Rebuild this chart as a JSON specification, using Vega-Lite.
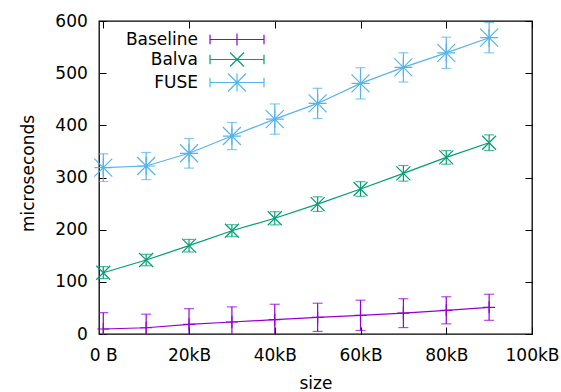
{
  "$schema": "https://vega.github.io/schema/vega-lite/v6.json",
  "width": 433,
  "height": 313,
  "autosize": {"type": "none"},
  "padding": {"left": 99, "top": 21, "right": 29, "bottom": 58},
  "background": "white",
  "config": {
    "view": {"stroke": "black", "strokeWidth": 1.3},
    "axis": {
      "labelFont": "DejaVu Sans", "titleFont": "DejaVu Sans",
      "labelFontSize": 17, "titleFontSize": 17,
      "labelColor": "black", "titleColor": "black", "titleFontWeight": "normal",
      "grid": false, "domain": false, "tickColor": "black", "tickSize": -7, "tickWidth": 1,
      "labelFlush": false, "labelOverlap": false
    },
    "legend": {
      "orient": "none", "legendX": 19, "legendY": 10, "title": null,
      "labelFont": "DejaVu Sans", "labelFontSize": 17, "labelColor": "black",
      "symbolSize": 144, "rowPadding": 2, "padding": 0,
      "labelAlign": "right"
    }
  },
  "data": {
    "values": [
      {"series": "Baseline", "size": 0, "y": 9.6, "lo": -21.4, "hi": 40.8},
      {"series": "Baseline", "size": 10000, "y": 12, "lo": -14, "hi": 38},
      {"series": "Baseline", "size": 20000, "y": 18.6, "lo": -11.4, "hi": 48.6},
      {"series": "Baseline", "size": 30000, "y": 23, "lo": -6, "hi": 52},
      {"series": "Baseline", "size": 40000, "y": 27.4, "lo": -2.2, "hi": 57},
      {"series": "Baseline", "size": 50000, "y": 32, "lo": 5, "hi": 59},
      {"series": "Baseline", "size": 60000, "y": 35.8, "lo": 6.8, "hi": 64.8},
      {"series": "Baseline", "size": 70000, "y": 40, "lo": 12.3, "hi": 67.7},
      {"series": "Baseline", "size": 80000, "y": 45.4, "lo": 19.4, "hi": 71.4},
      {"series": "Baseline", "size": 90000, "y": 51.2, "lo": 26.2, "hi": 76.2},
      {"series": "Balva", "size": 0, "y": 117.5, "lo": 106, "hi": 129},
      {"series": "Balva", "size": 10000, "y": 141.8, "lo": 130.8, "hi": 152.8},
      {"series": "Balva", "size": 20000, "y": 169.3, "lo": 157.3, "hi": 181.3},
      {"series": "Balva", "size": 30000, "y": 198, "lo": 186.5, "hi": 209.5},
      {"series": "Balva", "size": 40000, "y": 221.8, "lo": 209.2, "hi": 234.4},
      {"series": "Balva", "size": 50000, "y": 249, "lo": 235, "hi": 263},
      {"series": "Balva", "size": 60000, "y": 278, "lo": 264, "hi": 292},
      {"series": "Balva", "size": 70000, "y": 308, "lo": 293, "hi": 323},
      {"series": "Balva", "size": 80000, "y": 338.5, "lo": 325.5, "hi": 351.5},
      {"series": "Balva", "size": 90000, "y": 366.7, "lo": 351.7, "hi": 381.7},
      {"series": "FUSE", "size": 0, "y": 318.8, "lo": 292.3, "hi": 345.3},
      {"series": "FUSE", "size": 10000, "y": 322, "lo": 296, "hi": 348},
      {"series": "FUSE", "size": 20000, "y": 346.4, "lo": 318, "hi": 374.8},
      {"series": "FUSE", "size": 30000, "y": 379.5, "lo": 353.5, "hi": 405.5},
      {"series": "FUSE", "size": 40000, "y": 412, "lo": 383, "hi": 441},
      {"series": "FUSE", "size": 50000, "y": 442, "lo": 413, "hi": 471},
      {"series": "FUSE", "size": 60000, "y": 480.5, "lo": 450.5, "hi": 510.5},
      {"series": "FUSE", "size": 70000, "y": 511, "lo": 483, "hi": 539},
      {"series": "FUSE", "size": 80000, "y": 539, "lo": 509, "hi": 569},
      {"series": "FUSE", "size": 90000, "y": 568, "lo": 539, "hi": 597}
    ]
  },
  "layer": [
    {
      "mark": {"type": "line", "strokeWidth": 1.2, "clip": true},
      "encoding": {
        "x": {"field": "size", "type": "quantitative",
          "scale": {"domain": [-1000, 100000], "nice": false, "zero": false},
          "axis": {"orient": "bottom", "values": [0, 20000, 40000, 60000, 80000, 100000],
            "labelExpr": "datum.value === 0 ? '0 B' : format(datum.value / 1000, 'd') + 'kB'",
            "labelPadding": 20, "title": "size", "titleBaseline": "alphabetic", "titleY": 54.5}},
        "y": {"field": "y", "type": "quantitative",
          "scale": {"domain": [0, 600], "nice": false},
          "axis": {"orient": "left", "values": [0, 100, 200, 300, 400, 500, 600],
            "labelPadding": 18.7, "title": "microseconds",
            "titleBaseline": "alphabetic", "titleAlign": "center", "titleAngle": -90, "titleX": -66, "titleY": 152}},
        "color": {"field": "series", "type": "nominal",
          "scale": {"domain": ["Baseline", "Balva", "FUSE"], "range": ["#9400D3", "#009E73", "#56B4E9"]},
          "legend": {
            "encode": {
              "symbols": {"update": {
                "shape": {"signal": "datum.value === 'Baseline' ? 'M-4.5,0L4.5,0M-4.5,-0.8L-4.5,0.8M4.5,-0.8L4.5,0.8M0,-1L0,1' : datum.value === 'Balva' ? 'M-4.5,0L4.5,0M-4.5,-0.8L-4.5,0.8M4.5,-0.8L4.5,0.8M-1.17,-1.17L1.17,1.17M-1.17,1.17L1.17,-1.17' : 'M-4.5,0L4.5,0M-4.5,-0.8L-4.5,0.8M4.5,-0.8L4.5,0.8M0,-1.5L0,1.5M-1.5,0L1.5,0M-1.5,-1.5L1.5,1.5M-1.5,1.5L1.5,-1.5'"},
                "x": {"value": 119},
                "fill": {"value": "transparent"},
                "strokeWidth": {"value": 1.2},
                "opacity": {"value": 1}
              }},
              "labels": {"update": {"x": {"value": 80}, "align": {"value": "right"}}}
            }
          }}
      }
    },
    {
      "mark": {"type": "rule", "strokeWidth": 1.2, "clip": true},
      "encoding": {
        "x": {"field": "size", "type": "quantitative",
          "axis": {"orient": "top", "values": [0, 20000, 40000, 60000, 80000, 100000], "labels": false, "title": null}},
        "y": {"field": "lo", "type": "quantitative",
          "axis": {"orient": "right", "values": [0, 100, 200, 300, 400, 500, 600], "labels": false, "title": null}},
        "y2": {"field": "hi"},
        "color": {"field": "series", "type": "nominal", "legend": null}
      }
    },
    {
      "mark": {"type": "tick", "orient": "horizontal", "size": 10, "thickness": 1.2, "clip": true},
      "encoding": {
        "x": {"field": "size", "type": "quantitative", "axis": null},
        "y": {"field": "lo", "type": "quantitative", "axis": null},
        "color": {"field": "series", "type": "nominal", "legend": null}
      }
    },
    {
      "mark": {"type": "tick", "orient": "horizontal", "size": 10, "thickness": 1.2, "clip": true},
      "encoding": {
        "x": {"field": "size", "type": "quantitative", "axis": null},
        "y": {"field": "hi", "type": "quantitative", "axis": null},
        "color": {"field": "series", "type": "nominal", "legend": null}
      }
    },
    {
      "transform": [{"filter": "datum.series === 'Baseline'"}],
      "mark": {"type": "point", "filled": false, "strokeWidth": 1.2, "opacity": 1, "shape": "M-1,0L1,0M0,-1L0,1", "size": 144},
      "encoding": {
        "x": {"field": "size", "type": "quantitative", "axis": null},
        "y": {"field": "y", "type": "quantitative", "axis": null},
        "color": {"field": "series", "type": "nominal", "legend": null}
      }
    },
    {
      "transform": [{"filter": "datum.series === 'Balva'"}],
      "mark": {"type": "point", "filled": false, "strokeWidth": 1.2, "opacity": 1, "shape": "M-1,-1L1,1M-1,1L1,-1", "size": 196},
      "encoding": {
        "x": {"field": "size", "type": "quantitative", "axis": null},
        "y": {"field": "y", "type": "quantitative", "axis": null},
        "color": {"field": "series", "type": "nominal", "legend": null}
      }
    },
    {
      "transform": [{"filter": "datum.series === 'FUSE'"}],
      "mark": {"type": "point", "filled": false, "strokeWidth": 1.2, "opacity": 1, "shape": "M-1,0L1,0M0,-1L0,1M-1,-1L1,1M-1,1L1,-1", "size": 324},
      "encoding": {
        "x": {"field": "size", "type": "quantitative", "axis": null},
        "y": {"field": "y", "type": "quantitative", "axis": null},
        "color": {"field": "series", "type": "nominal", "legend": null}
      }
    }
  ],
  "resolve": {"axis": {"x": "independent", "y": "independent"}}
}
